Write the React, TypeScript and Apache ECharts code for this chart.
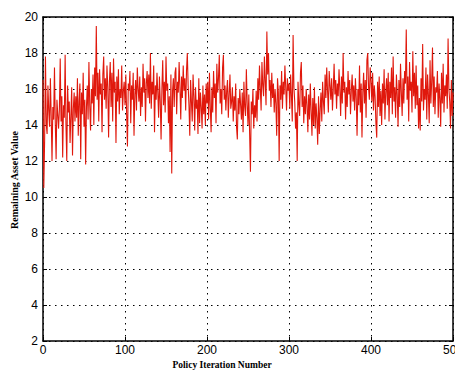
import React, { useEffect, useRef } from "react";
import * as echarts from "echarts";

const xTicks = [0, 100, 200, 300, 400, 500];
const yTicks = [2, 4, 6, 8, 10, 12, 14, 16, 18, 20];
const xAxisTitle = "Policy Iteration Number";
const yAxisTitle = "Remaining Asset Value";

const values0to99 = [
  16.5, 10.5, 13.2, 17.8, 14.0, 13.5, 16.2, 14.8, 13.9, 16.6, 14.5, 12.0, 15.0, 14.3, 17.2, 14.1, 12.1, 15.4, 14.6, 13.8,
  14.9, 17.7, 14.2, 15.6, 12.2, 15.1, 14.4, 17.9, 14.0, 12.0, 16.2, 14.7, 15.3, 13.0, 14.5, 16.1, 12.3, 14.9, 15.8, 14.2,
  15.6, 14.4, 16.6, 13.4, 15.3, 16.3, 12.1, 15.8, 14.6, 16.9, 13.9, 15.4, 11.8, 15.0, 16.2, 14.3, 17.5, 15.1, 13.7, 16.0,
  15.2, 16.8, 14.0, 17.2, 15.6, 19.5, 15.4, 16.9, 14.2, 17.1, 15.7, 16.3, 13.6, 16.8, 17.8, 15.4, 16.6, 14.9, 17.3, 16.1,
  13.3, 16.4, 17.5, 15.0, 16.9, 14.2, 17.7, 15.8, 16.4, 13.0, 16.7, 15.3, 17.1, 14.6, 16.0, 15.5, 17.3, 14.8, 15.9, 16.4,
];
const values100to199 = [
  15.1, 16.8, 14.6, 12.8, 16.3, 15.9, 17.0, 14.1, 16.2, 15.4, 16.9, 13.4, 15.7, 16.5, 14.8, 17.2, 16.0, 15.3, 16.7, 14.5,
  16.1, 15.0, 17.4, 15.8, 16.6, 14.2, 16.3, 17.0, 15.5, 16.8, 15.2, 18.0, 14.9, 16.4, 15.7, 17.3, 13.6, 16.2, 15.4, 16.9,
  15.8, 14.4, 16.7, 15.3, 13.2, 16.0, 17.6, 15.1, 16.4, 14.7, 17.8, 15.9, 16.3, 14.1, 15.6, 12.5, 16.8, 11.3, 15.9, 16.6,
  15.0, 16.9, 17.2, 14.6, 16.4, 15.8, 17.5, 16.1, 14.3, 16.7, 15.5, 17.3, 15.9, 16.6, 14.8, 17.0, 18.0, 16.2, 15.1, 13.4,
  16.5, 15.3, 14.2, 16.8, 15.6, 13.7, 16.1, 14.9, 15.4, 13.5, 16.6, 14.1, 15.8, 15.0, 13.8, 16.2, 14.6, 15.7, 14.0, 16.3,
];
const values200to299 = [
  15.2, 16.4, 14.3, 16.9, 15.0, 13.6, 16.1, 14.7, 17.0, 15.5, 16.3, 14.1, 17.4, 15.8, 16.6, 17.9, 15.2, 16.0, 14.6, 17.2,
  17.9, 15.4, 16.2, 14.8, 15.9, 16.5, 14.4, 15.7, 16.8, 14.9, 15.3, 16.1, 14.2, 15.6, 14.8, 16.3, 13.9, 13.2, 15.5, 14.6,
  16.0, 15.1, 14.3, 15.8, 13.6, 16.4, 15.0, 14.5, 17.1, 15.2, 14.0, 15.7, 13.5, 11.4, 15.3, 14.6, 16.0, 13.8, 15.1, 14.4,
  15.9, 14.2, 16.6, 15.4, 17.3, 16.0, 14.8, 17.5, 16.2, 15.6, 17.8, 16.4, 15.1, 19.2, 16.8, 18.0, 15.9, 16.5, 15.0, 16.9,
  15.5, 16.3, 14.7, 16.0, 15.2, 13.4, 16.6, 15.8, 12.0, 16.2, 15.4, 17.0, 14.9, 16.4, 15.7, 17.3, 16.1, 14.8, 16.6, 15.9,
];
const values300to399 = [
  16.3, 14.9, 16.8, 15.6, 14.2, 19.0, 16.1, 15.3, 13.8, 14.7, 12.0, 16.4, 15.2, 14.5, 16.9, 17.5, 15.0, 16.2, 14.1, 15.6,
  14.6, 16.0, 15.1, 13.6, 15.7, 14.3, 16.3, 14.8, 13.4, 15.5, 14.0, 16.1, 13.8, 15.2, 14.4, 12.9, 15.6, 13.5, 14.9, 15.8,
  14.2, 16.4, 15.3, 14.6, 16.8, 15.5, 17.2, 15.9, 14.7, 17.0, 16.2, 15.4, 16.6, 14.8, 16.0, 17.4, 15.7, 16.5, 14.9, 16.3,
  15.6, 17.1, 16.0, 14.5, 16.7, 15.2, 18.0, 15.8, 16.4, 14.3, 16.1, 15.0, 17.0, 15.7, 16.5, 14.6, 15.9, 16.8, 15.3, 16.2,
  14.8, 16.6, 15.5, 13.4, 16.0, 15.1, 17.3, 14.7, 16.3, 13.3, 15.8, 16.9, 15.2, 16.5, 14.4, 17.6, 18.0, 16.1, 15.4, 17.2,
];
const values400to500 = [
  16.5, 15.3, 16.9, 14.8, 16.2, 15.6, 14.1, 13.3, 16.4, 15.0, 16.7, 14.5, 15.9, 14.0, 16.3, 15.2, 17.1, 14.3, 15.8, 16.6,
  15.1, 16.9, 14.2, 16.4, 15.5, 17.2, 14.6, 17.8, 15.3, 16.1, 14.4, 16.8, 15.7, 13.9, 16.5, 15.0, 17.4, 15.8, 14.5, 16.6,
  15.2, 17.0, 16.3, 19.3, 15.4, 16.7, 14.2, 17.5, 15.9, 16.4, 14.7, 18.1, 15.6, 16.9, 14.9, 17.3, 15.1, 16.2, 13.8, 15.5,
  13.7, 16.6, 15.3, 18.5, 14.8, 16.0, 15.4, 17.2, 14.3, 16.8, 15.7, 14.1, 17.6, 15.2, 16.4, 18.3, 15.0, 16.7, 14.6, 16.1,
  15.8, 17.0, 14.4, 16.3, 15.5, 13.9, 16.9, 15.2, 17.4, 14.7, 16.2, 15.6, 16.8, 14.9, 18.8, 16.0, 15.3, 13.8, 16.5, 14.5,
  15.8,
];

const allValues = [
  ...values0to99,
  ...values100to199,
  ...values200to299,
  ...values300to399,
  ...values400to500,
];

export default function App() {
  const ref = useRef<HTMLDivElement>(null);

  useEffect(() => {
    if (!ref.current) return;
    const chart = echarts.init(ref.current, undefined, { renderer: "svg" });
    const data = allValues.map((v, i) => [i, v]);
    const axisText = { color: "#000", fontFamily: "Liberation Sans, Arial, sans-serif", fontSize: 12 };
    chart.setOption({
      animation: false,
      backgroundColor: "#fff",
      grid: { left: 43, right: 2, top: 17, bottom: 32, show: false, containLabel: false, outerBoundsMode: "none" },
      xAxis: [
        {
          type: "value",
          min: xTicks[0],
          max: xTicks[xTicks.length - 1],
          interval: 100,
          axisLine: { show: true, onZero: false, lineStyle: { color: "#000", width: 1.5 } },
          axisTick: { show: true, inside: true, length: 4, lineStyle: { color: "#000" } },
          axisLabel: { ...axisText, margin: 3, hideOverlap: false },
          splitLine: { show: true, lineStyle: { color: "#000", type: [1.5, 4.5], width: 1 } },
        },
        {
          type: "value",
          position: "top",
          min: xTicks[0],
          max: xTicks[xTicks.length - 1],
          interval: 100,
          axisLine: { show: true, onZero: false, lineStyle: { color: "#000", width: 1.5 } },
          axisTick: { show: true, inside: true, length: 4, lineStyle: { color: "#000" } },
          axisLabel: { show: false },
          splitLine: { show: false },
        },
      ],
      yAxis: [
        {
          type: "value",
          min: yTicks[0],
          max: yTicks[yTicks.length - 1],
          interval: 2,
          axisLine: { show: true, onZero: false, lineStyle: { color: "#000", width: 1.5 } },
          axisTick: { show: true, inside: true, length: 4, lineStyle: { color: "#000" } },
          axisLabel: { ...axisText, margin: 5 },
          splitLine: { show: true, lineStyle: { color: "#000", type: [1.5, 4.5], width: 1 } },
        },
        {
          type: "value",
          position: "right",
          min: yTicks[0],
          max: yTicks[yTicks.length - 1],
          interval: 2,
          axisLine: { show: true, onZero: false, lineStyle: { color: "#000", width: 1.5 } },
          axisTick: { show: true, inside: true, length: 4, lineStyle: { color: "#000" } },
          axisLabel: { show: false },
          splitLine: { show: false },
        },
      ],
      graphic: [
        {
          type: "text",
          x: 222,
          y: 365,
          style: {
            text: xAxisTitle,
            fill: "#000",
            font: "bold 9.5px 'Liberation Serif', serif",
            align: "center",
            verticalAlign: "middle",
          },
        },
        {
          type: "text",
          x: 14,
          y: 180,
          rotation: Math.PI / 2,
          style: {
            text: yAxisTitle,
            fill: "#000",
            font: "bold 10px 'Liberation Serif', serif",
            align: "center",
            verticalAlign: "middle",
          },
        },
      ],
      series: [
        {
          type: "line",
          data,
          showSymbol: false,
          symbol: "none",
          lineStyle: { color: "#e0180c", width: 1.1 },
          z: 3,
        },
      ],
    });
    return () => chart.dispose();
  }, []);

  return (
    <div
      ref={ref}
      style={{ position: "absolute", left: 0, top: 0, width: 455, height: 373 }}
    />
  );
}
